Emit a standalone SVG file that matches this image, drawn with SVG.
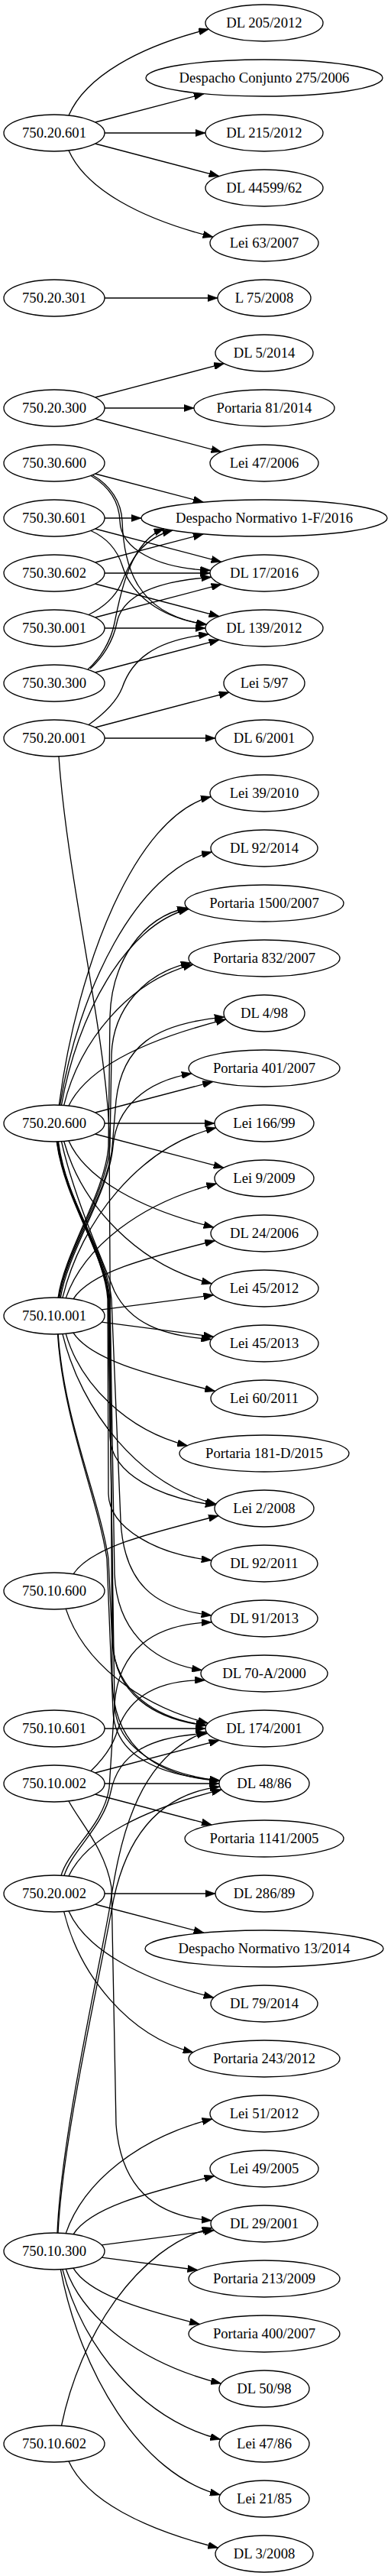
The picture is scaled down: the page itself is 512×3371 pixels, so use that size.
<svg xmlns="http://www.w3.org/2000/svg" width="512" height="3371" viewBox="0 0 512 3371">
<style>
.n ellipse{fill:none;stroke:#000;stroke-width:1.33}
.n text{font-family:"Liberation Serif","Times New Roman",serif;font-size:18.67px;text-anchor:middle;fill:#000}
#edges path{fill:none;stroke:#000;stroke-width:1.33;marker-end:url(#ah)}
</style>
<defs>
<marker id="ah" viewBox="0 0 10 7" refX="10" refY="3.5" markerUnits="userSpaceOnUse" markerWidth="13.33" markerHeight="9.33" orient="auto"><path d="M0,0L10,3.5L0,7z" fill="#000" stroke="#000" stroke-width="0.5"/></marker>
</defs>
<rect x="0" y="0" width="512" height="3371" fill="#fff"/>
<g id="edges">
<path d="M90,151C112,100.2 181.8,61 273.5,38.1"/>
<path d="M124.6,160L267.1,122.7"/>
<path d="M137,174L269,174"/>
<path d="M124.6,188L287,230.6"/>
<path d="M90,197C112.7,247.9 184.5,286.5 279,310.1"/>
<path d="M137,390L285,390"/>
<path d="M124.6,520L293.5,475.7"/>
<path d="M137,534L254,534"/>
<path d="M124.6,548L289.9,591.3"/>
<path d="M124.6,620L266.3,657.1"/>
<path d="M119,622.5C142,636 156,656 157,682C158,718 205,744 275.7,746.3"/>
<path d="M121,621.5C144,635 159,656 160,682C162,740 178,805 270.5,817"/>
<path d="M137,678L185,678"/>
<path d="M124.6,692L289.9,735.3"/>
<path d="M119,694.5C138,703 153,718 160,740C172,778 208,808 270.5,817.5"/>
<path d="M124.6,736L266.3,698.9"/>
<path d="M137,750L275,750"/>
<path d="M124.6,764L287,806.6"/>
<path d="M116,804.5C135,795 150,782 158,765C170,735 185,705 226,694"/>
<path d="M124.6,808L289.9,764.7"/>
<path d="M137,822L269,822"/>
<path d="M115,876C131,862 145,840 150,815C157,780 170,708 215,692"/>
<path d="M118,875C134,861 148,840 153,815C158,790 182,762 276.8,755.3"/>
<path d="M124.6,880L287,837.4"/>
<path d="M116,948.5C135,935 152,920 160,900C172,865 200,838 273.5,830"/>
<path d="M124.6,952L300.1,906"/>
<path d="M137,966L282,966"/>
<path d="M77,990C88,1150 138,1350 143,1480L147,2200C149,2290 210,2325 287.6,2330.5"/>
<path d="M77.3,1446.1C101.2,1264.5 176.8,1067.5 276.3,1042.6"/>
<path d="M78.6,1446.2C102.5,1297.1 178.1,1139.8 277.5,1114.9"/>
<path d="M80.5,1446.25C100.5,1330.7 163.9,1210.3 247.2,1189.5"/>
<path d="M83.7,1446.45C104,1363.5 168.4,1283.4 253,1262.2"/>
<path d="M90,1447C114.7,1396.1 193,1359.7 296,1333.9"/>
<path d="M124.6,1456L278.7,1415.6"/>
<path d="M137,1470L281,1470"/>
<path d="M124.6,1484L293,1528.1"/>
<path d="M90,1493C112.8,1543.9 185,1582.4 279.9,1606.1"/>
<path d="M83.7,1493.55C106.9,1577.4 180.6,1655.6 277.4,1679.8"/>
<path d="M80.5,1493.75C95,1560 130,1640 150,1690C170,1730 210,1748 276.8,1752.6"/>
<path d="M76.4,1493.9C86,1570 138,1640 142,1700L144,1880C145,1930 212,1961 282.1,1969.6"/>
<path d="M75.75,1493.9C85,1570 137,1640 141,1700L142,1955C143,2000 205,2034 277.1,2041.8"/>
<path d="M75.2,1493.95C86,1570 140,1640 146,1700L158,1990C162,2070 200,2105 277,2113.9"/>
<path d="M74.8,1494C86,1570 139,1640 144,1700L150,2060C153,2130 195,2175 264.4,2185.6"/>
<path d="M74.5,1494C85,1570 138,1640 143,1700L148,2150C150,2215 200,2250 270.1,2258"/>
<path d="M74.2,1494C84,1570 137,1640 142,1700L150,2230C152,2290 215,2322 287.7,2330.2"/>
<path d="M76.1,1698C84,1640 138,1560 142,1500L144,1330C146,1260 185,1200 245.3,1188"/>
<path d="M76.9,1698C85,1640 140,1560 144,1500L146,1380C148,1320 190,1272 250.1,1259.9"/>
<path d="M77.9,1698C86,1640 142,1560 147,1500L152,1440C160,1370 200,1340 294.1,1330.8"/>
<path d="M79.4,1698C88,1640 143,1560 148,1500C152,1450 190,1415 251.1,1404.8"/>
<path d="M81.9,1698.3C106,1598.2 182.4,1500.9 282.9,1475.8"/>
<path d="M86.2,1698.65C109.9,1631.3 184.95,1573.6 283.7,1548.9"/>
<path d="M96,1699.8C118.3,1665.5 188.85,1646.7 281.7,1623.5"/>
<path d="M133.1,1713.9L279.8,1694.7"/>
<path d="M133.1,1730.1L279.8,1749.3"/>
<path d="M96,1744.2C118.3,1778.5 188.85,1797.3 281.7,1820.5"/>
<path d="M86.2,1745.35C105.3,1811.3 165.85,1871.9 245.5,1891.8"/>
<path d="M81.9,1745.67C106,1845.8 182.4,1943.1 282.9,1968.2"/>
<path d="M76.1,1746C84,1860 130,1960 142,2040L147,2150C152,2215 205,2250 270.3,2257.6"/>
<path d="M75.5,1746C83,1860 128,1960 140,2040L148,2240C151,2300 212,2324 287.9,2329.9"/>
<path d="M96,2059.8C118.8,2025.5 191.15,2007.3 286.3,1983.5"/>
<path d="M86.2,2105.35C108.5,2172.6 179.3,2231.6 272.4,2254.9"/>
<path d="M137,2262L269,2262"/>
<path d="M119,2317.5C132,2305 145,2290 152,2270C165,2225 200,2198 268.6,2198.7"/>
<path d="M124.6,2320L287,2277.4"/>
<path d="M137,2334L287,2334"/>
<path d="M124.6,2348L277.2,2388"/>
<path d="M90,2357C105,2385 138,2420 146,2470L152,2780C158,2860 200,2900 277.1,2905.8"/>
<path d="M80,2454.5C90,2420 135,2390 143,2340L150,2230C155,2160 200,2125 277,2122.9"/>
<path d="M84,2454.5C95,2420 136,2390 145,2345C155,2295 195,2272 271.8,2268.4"/>
<path d="M90,2455C114,2404.1 190.15,2366.9 290.3,2341.9"/>
<path d="M137,2478L282,2478"/>
<path d="M124.6,2492L267,2529.3"/>
<path d="M90,2501C112.8,2551.9 185,2590.4 279.9,2614.1"/>
<path d="M83.7,2501.55C104,2584.5 168.35,2664.6 253,2685.8"/>
<path d="M75,2922C80,2800 125,2600 143,2500C155,2420 175,2300 270.1,2266.1"/>
<path d="M76,2922C82,2800 128,2600 146,2500C158,2430 190,2350 287.9,2338.1"/>
<path d="M86.2,2922.65C109.2,2855.3 182.1,2796.9 278,2772.9"/>
<path d="M96,2923.8C118.2,2889.5 188.4,2870.6 280.8,2847.5"/>
<path d="M133.1,2937.9L280.6,2918.6"/>
<path d="M133.1,2954.1L258.9,2970.6"/>
<path d="M96,2968.2C115.9,3001.2 178.75,3020.8 261.5,3041.5"/>
<path d="M86.2,2969.35C110.6,3036.7 187.85,3093.7 289.5,3119.1"/>
<path d="M81.9,2969.67C106.7,3069.8 185.3,3166.35 288.7,3192.2"/>
<path d="M79.4,2969.8C104.5,3102.6 183.9,3238.7 288.4,3264.8"/>
<path d="M80.5,3174.25C104.2,3057.8 179.15,2940.1 277.8,2915.4"/>
<path d="M90,3221C113.5,3271.9 187.8,3309.65 285.6,3334.1"/>
</g>
<g id="n_750_20_601" class="n"><ellipse cx="71" cy="174" rx="66" ry="24"/><text x="71" y="180">750.20.601</text></g>
<g id="n_750_20_301" class="n"><ellipse cx="71" cy="390" rx="66" ry="24"/><text x="71" y="396">750.20.301</text></g>
<g id="n_750_20_300" class="n"><ellipse cx="71" cy="534" rx="66" ry="24"/><text x="71" y="540">750.20.300</text></g>
<g id="n_750_30_600" class="n"><ellipse cx="71" cy="606" rx="66" ry="24"/><text x="71" y="612">750.30.600</text></g>
<g id="n_750_30_601" class="n"><ellipse cx="71" cy="678" rx="66" ry="24"/><text x="71" y="684">750.30.601</text></g>
<g id="n_750_30_602" class="n"><ellipse cx="71" cy="750" rx="66" ry="24"/><text x="71" y="756">750.30.602</text></g>
<g id="n_750_30_001" class="n"><ellipse cx="71" cy="822" rx="66" ry="24"/><text x="71" y="828">750.30.001</text></g>
<g id="n_750_30_300" class="n"><ellipse cx="71" cy="894" rx="66" ry="24"/><text x="71" y="900">750.30.300</text></g>
<g id="n_750_20_001" class="n"><ellipse cx="71" cy="966" rx="66" ry="24"/><text x="71" y="972">750.20.001</text></g>
<g id="n_750_20_600" class="n"><ellipse cx="71" cy="1470" rx="66" ry="24"/><text x="71" y="1476">750.20.600</text></g>
<g id="n_750_10_001" class="n"><ellipse cx="71" cy="1722" rx="66" ry="24"/><text x="71" y="1728">750.10.001</text></g>
<g id="n_750_10_600" class="n"><ellipse cx="71" cy="2082" rx="66" ry="24"/><text x="71" y="2088">750.10.600</text></g>
<g id="n_750_10_601" class="n"><ellipse cx="71" cy="2262" rx="66" ry="24"/><text x="71" y="2268">750.10.601</text></g>
<g id="n_750_10_002" class="n"><ellipse cx="71" cy="2334" rx="66" ry="24"/><text x="71" y="2340">750.10.002</text></g>
<g id="n_750_20_002" class="n"><ellipse cx="71" cy="2478" rx="66" ry="24"/><text x="71" y="2484">750.20.002</text></g>
<g id="n_750_10_300" class="n"><ellipse cx="71" cy="2946" rx="66" ry="24"/><text x="71" y="2952">750.10.300</text></g>
<g id="n_750_10_602" class="n"><ellipse cx="71" cy="3198" rx="66" ry="24"/><text x="71" y="3204">750.10.602</text></g>
<g id="r00" class="n"><ellipse cx="346" cy="30" rx="77" ry="24"/><text x="346" y="36">DL 205/2012</text></g>
<g id="r01" class="n"><ellipse cx="346" cy="102" rx="155" ry="24"/><text x="346" y="108">Despacho Conjunto 275/2006</text></g>
<g id="r02" class="n"><ellipse cx="346" cy="174" rx="77" ry="24"/><text x="346" y="180">DL 215/2012</text></g>
<g id="r03" class="n"><ellipse cx="346" cy="246" rx="77" ry="24"/><text x="346" y="252">DL 44599/62</text></g>
<g id="r04" class="n"><ellipse cx="346" cy="318" rx="71" ry="24"/><text x="346" y="324">Lei 63/2007</text></g>
<g id="r05" class="n"><ellipse cx="346" cy="390" rx="61" ry="24"/><text x="346" y="396">L 75/2008</text></g>
<g id="r06" class="n"><ellipse cx="346" cy="462" rx="64" ry="24"/><text x="346" y="468">DL 5/2014</text></g>
<g id="r07" class="n"><ellipse cx="346" cy="534" rx="92" ry="24"/><text x="346" y="540">Portaria 81/2014</text></g>
<g id="r08" class="n"><ellipse cx="346" cy="606" rx="71" ry="24"/><text x="346" y="612">Lei 47/2006</text></g>
<g id="r09" class="n"><ellipse cx="346" cy="678" rx="161" ry="24"/><text x="346" y="684">Despacho Normativo 1-F/2016</text></g>
<g id="r10" class="n"><ellipse cx="346" cy="750" rx="71" ry="24"/><text x="346" y="756">DL 17/2016</text></g>
<g id="r11" class="n"><ellipse cx="346" cy="822" rx="77" ry="24"/><text x="346" y="828">DL 139/2012</text></g>
<g id="r12" class="n"><ellipse cx="346" cy="894" rx="53" ry="24"/><text x="346" y="900">Lei 5/97</text></g>
<g id="r13" class="n"><ellipse cx="346" cy="966" rx="64" ry="24"/><text x="346" y="972">DL 6/2001</text></g>
<g id="r14" class="n"><ellipse cx="346" cy="1038" rx="71" ry="24"/><text x="346" y="1044">Lei 39/2010</text></g>
<g id="r15" class="n"><ellipse cx="346" cy="1110" rx="70" ry="24"/><text x="346" y="1116">DL 92/2014</text></g>
<g id="r16" class="n"><ellipse cx="346" cy="1182" rx="104" ry="24"/><text x="346" y="1188">Portaria 1500/2007</text></g>
<g id="r17" class="n"><ellipse cx="346" cy="1254" rx="99" ry="24"/><text x="346" y="1260">Portaria 832/2007</text></g>
<g id="r18" class="n"><ellipse cx="346" cy="1326" rx="53" ry="24"/><text x="346" y="1332">DL 4/98</text></g>
<g id="r19" class="n"><ellipse cx="346" cy="1398" rx="99" ry="24"/><text x="346" y="1404">Portaria 401/2007</text></g>
<g id="r20" class="n"><ellipse cx="346" cy="1470" rx="65" ry="24"/><text x="346" y="1476">Lei 166/99</text></g>
<g id="r21" class="n"><ellipse cx="346" cy="1542" rx="65" ry="24"/><text x="346" y="1548">Lei 9/2009</text></g>
<g id="r22" class="n"><ellipse cx="346" cy="1614" rx="70" ry="24"/><text x="346" y="1620">DL 24/2006</text></g>
<g id="r23" class="n"><ellipse cx="346" cy="1686" rx="71" ry="24"/><text x="346" y="1692">Lei 45/2012</text></g>
<g id="r24" class="n"><ellipse cx="346" cy="1758" rx="71" ry="24"/><text x="346" y="1764">Lei 45/2013</text></g>
<g id="r25" class="n"><ellipse cx="346" cy="1830" rx="70" ry="24"/><text x="346" y="1836">Lei 60/2011</text></g>
<g id="r26" class="n"><ellipse cx="346" cy="1902" rx="111" ry="24"/><text x="346" y="1908">Portaria 181-D/2015</text></g>
<g id="r27" class="n"><ellipse cx="346" cy="1974" rx="65" ry="24"/><text x="346" y="1980">Lei 2/2008</text></g>
<g id="r28" class="n"><ellipse cx="346" cy="2046" rx="70" ry="24"/><text x="346" y="2052">DL 92/2011</text></g>
<g id="r29" class="n"><ellipse cx="346" cy="2118" rx="70" ry="24"/><text x="346" y="2124">DL 91/2013</text></g>
<g id="r30" class="n"><ellipse cx="346" cy="2190" rx="83" ry="24"/><text x="346" y="2196">DL 70-A/2000</text></g>
<g id="r31" class="n"><ellipse cx="346" cy="2262" rx="77" ry="24"/><text x="346" y="2268">DL 174/2001</text></g>
<g id="r32" class="n"><ellipse cx="346" cy="2334" rx="59" ry="24"/><text x="346" y="2340">DL 48/86</text></g>
<g id="r33" class="n"><ellipse cx="346" cy="2406" rx="104" ry="24"/><text x="346" y="2412">Portaria 1141/2005</text></g>
<g id="r34" class="n"><ellipse cx="346" cy="2478" rx="64" ry="24"/><text x="346" y="2484">DL 286/89</text></g>
<g id="r35" class="n"><ellipse cx="346" cy="2550" rx="156" ry="24"/><text x="346" y="2556">Despacho Normativo 13/2014</text></g>
<g id="r36" class="n"><ellipse cx="346" cy="2622" rx="70" ry="24"/><text x="346" y="2628">DL 79/2014</text></g>
<g id="r37" class="n"><ellipse cx="346" cy="2694" rx="99" ry="24"/><text x="346" y="2700">Portaria 243/2012</text></g>
<g id="r38" class="n"><ellipse cx="346" cy="2766" rx="71" ry="24"/><text x="346" y="2772">Lei 51/2012</text></g>
<g id="r39" class="n"><ellipse cx="346" cy="2838" rx="71" ry="24"/><text x="346" y="2844">Lei 49/2005</text></g>
<g id="r40" class="n"><ellipse cx="346" cy="2910" rx="70" ry="24"/><text x="346" y="2916">DL 29/2001</text></g>
<g id="r41" class="n"><ellipse cx="346" cy="2982" rx="99" ry="24"/><text x="346" y="2988">Portaria 213/2009</text></g>
<g id="r42" class="n"><ellipse cx="346" cy="3054" rx="99" ry="24"/><text x="346" y="3060">Portaria 400/2007</text></g>
<g id="r43" class="n"><ellipse cx="346" cy="3126" rx="59" ry="24"/><text x="346" y="3132">DL 50/98</text></g>
<g id="r44" class="n"><ellipse cx="346" cy="3198" rx="59" ry="24"/><text x="346" y="3204">Lei 47/86</text></g>
<g id="r45" class="n"><ellipse cx="346" cy="3270" rx="59" ry="24"/><text x="346" y="3276">Lei 21/85</text></g>
<g id="r46" class="n"><ellipse cx="346" cy="3342" rx="64" ry="24"/><text x="346" y="3348">DL 3/2008</text></g>
</svg>
